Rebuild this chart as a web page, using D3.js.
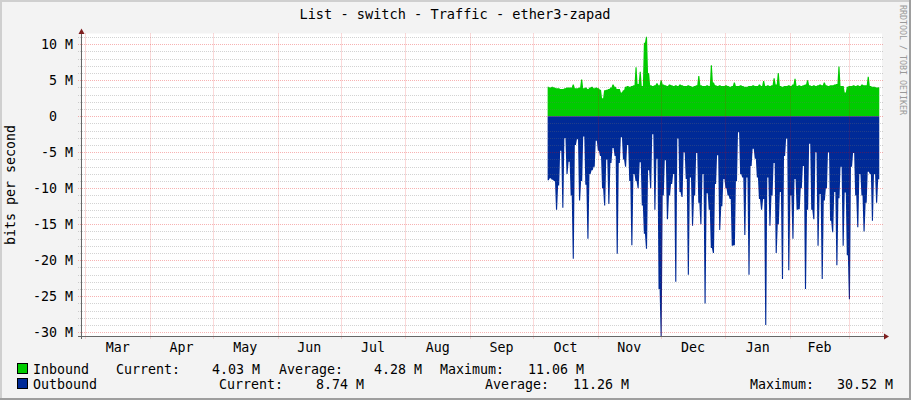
<!DOCTYPE html>
<html>
<head>
<meta charset="utf-8">
<script src="https://cdn.jsdelivr.net/npm/d3@7"></script>
<style>
  html, body { margin: 0; padding: 0; background: #f3f3f3; }
  svg { display: block; font-family: "DejaVu Sans Mono", monospace; }
</style>
</head>
<body>
<div id="chart"></div>
<script>
// daily samples, first one on seriesStart (values in M bit/s)
const seriesStart = Date.UTC(2013, 9, 8);
const inbound = [
  4.1, 4.0, 4.1, 4.0, 3.9, 3.9, 3.8, 3.8, 3.9, 4.0,
  4.0, 4.0, 4.4, 3.9, 3.9, 4.0, 5.1, 3.9, 4.0, 3.8,
  4.0, 4.1, 3.9, 4.0, 3.9, 3.7, 2.5, 3.6, 3.7, 3.8,
  4.0, 4.4, 4.1, 3.8, 3.8, 3.3, 3.6, 4.1, 4.2, 4.1,
  4.2, 4.3, 6.8, 4.5, 6.2, 4.2, 10.2, 11.06, 6.0, 4.3,
  4.2, 4.3, 4.6, 4.3, 5.0, 4.4, 4.3, 4.2, 4.4, 4.3,
  4.2, 4.3, 4.2, 4.4, 4.3, 4.2, 4.2, 4.3, 4.2, 4.1,
  4.2, 4.3, 5.6, 4.3, 4.2, 4.2, 4.3, 4.2, 7.1, 4.7,
  4.3, 4.2, 4.3, 4.2, 4.2, 4.3, 4.2, 4.1, 4.2, 4.7,
  4.2, 4.2, 4.3, 4.2, 4.1, 4.1, 4.2, 4.2, 4.3, 4.2,
  4.2, 4.4, 4.2, 4.9, 4.2, 4.3, 4.2, 4.3, 5.3, 4.4,
  6.0, 4.2, 4.1, 4.2, 4.2, 4.3, 4.2, 4.4, 5.2, 4.2,
  4.3, 4.2, 4.3, 4.4, 5.0, 4.3, 4.2, 4.3, 4.2, 4.3,
  4.4, 4.3, 4.7, 4.3, 4.2, 4.3, 4.3, 4.4, 4.5, 6.9,
  4.2, 4.2, 3.3, 4.1, 4.2, 4.2, 4.3, 4.2, 4.3, 4.2,
  4.4, 4.3, 4.3, 5.5, 4.2, 4.1, 4.1, 4.0, 4.03
];
// outbound is graphed below zero
const outbound = [
  8.9, 8.6, 8.8, 9.0, 13, 9.6, 4.8, 12.7, 3.0, 8,
  6.3, 11, 19.8, 4, 3.2, 11.7, 9, 2.8, 9.5, 17,
  8, 7.5, 7, 3.4, 4.8, 5.5, 10, 12.4, 6, 12.2,
  6.5, 4.4, 5.5, 19.1, 6.5, 2.9, 6, 7, 4, 9,
  17.9, 8, 9, 10, 6.4, 12.4, 16.3, 18.4, 7.5, 10,
  2.5, 13, 5.9, 24, 30.52, 11, 6.1, 14.3, 11, 9.4,
  8, 23, 3.1, 10.5, 11.2, 5, 8.7, 22, 8.5, 15.2,
  11, 5.1, 12, 15, 8, 26, 10.7, 13, 18.3, 19,
  9.4, 5.4, 15.8, 12.5, 8.7, 10, 11, 11.5, 18, 17.9,
  9, 2.2, 8, 8.5, 16.5, 8.5, 22, 6.9, 4.5, 5.9,
  8.5, 11.5, 13, 11.5, 29, 8.5, 15.2, 11, 6.5, 19,
  15, 10.5, 22.6, 5.5, 3.1, 21.4, 11, 17, 8.7, 13,
  12.9, 10, 6.9, 24, 13, 3.8, 13, 14.3, 5, 18,
  10.8, 22.6, 11.7, 10, 5, 14.5, 16.1, 10.5, 20.7, 11.4,
  7, 18, 10.6, 19.3, 25.4, 7, 5.1, 11, 15.4, 8,
  11, 16, 12, 7.7, 8, 14.5, 8, 12, 8.74
];
const yTicks = [10, 5, 0, -5, -10, -15, -20, -25, -30];
const legendNames = ["Inbound", "Outbound"];
const inboundStats = ["4.03 M", "4.28 M", "11.06 M"];
const outboundStats = ["8.74 M", "11.26 M", "30.52 M"];

const W = 911, H = 400;
const plotLeft = 81, plotRight = 882, plotTop = 33.5, plotBottom = 336;
const green = "#00cc00", blue = "#002a97";

const svg = d3.select("#chart").append("svg")
  .attr("width", W).attr("height", H);

// background with shaded frame
svg.append("rect").attr("width", W).attr("height", H).attr("fill", "#f3f3f3");
svg.append("path").attr("d", "M0,1H" + W + "M1,0V" + H).attr("stroke", "#cfcfcf").attr("stroke-width", 2);
svg.append("path").attr("d", "M0," + (H - 1) + "H" + W + "M" + (W - 1) + ",0V" + H).attr("stroke", "#9e9e9e").attr("stroke-width", 2);

svg.append("rect")
  .attr("x", plotLeft).attr("y", plotTop)
  .attr("width", plotRight - plotLeft).attr("height", plotBottom - plotTop)
  .attr("fill", "#fff");

const x = d3.scaleUtc()
  .domain([new Date(Date.UTC(2013, 1, 26, 22, 30)), new Date(Date.UTC(2014, 2, 16, 20, 0))])
  .range([plotLeft, plotRight]);
const y = d3.scaleLinear()
  .domain([-30.52, 11.5])
  .range([plotBottom, plotTop]);

// daily values -> flat step with a 1px ramp to the next day (like rrdtool)
function stepPoints(values, sign) {
  const pts = [];
  values.forEach((v, i) => {
    const t0 = d3.utcDay.offset(new Date(seriesStart), i);
    const t1 = d3.utcDay.offset(t0, 1);
    pts.push([x(t0), y(sign * v)]);
    pts.push([x(t1) - 1, y(sign * v)]);
  });
  return pts;
}

const area = d3.area()
  .x(d => d[0])
  .y0(y(0))
  .y1(d => d[1]);

svg.append("path").attr("d", area(stepPoints(inbound, 1))).attr("fill", green);
svg.append("path").attr("d", area(stepPoints(outbound, -1))).attr("fill", blue);

// grid on top of the data
const minorCol = "rgba(110,110,110,0.3)", majorCol = "rgba(230,0,0,0.3)";
const grid = svg.append("g").attr("stroke-dasharray", "1,1").attr("stroke-width", 1);
d3.range(-30, 12).forEach(v => {
  const yy = Math.round(y(v)) + 0.5;
  grid.append("line")
    .attr("x1", plotLeft - 3).attr("x2", plotRight + 2)
    .attr("y1", yy).attr("y2", yy)
    .attr("stroke", v % 5 === 0 ? majorCol : minorCol);
});
const months = d3.utcMonth.range(x.domain()[0], x.domain()[1]);
months.forEach(m => {
  const xx = Math.round(x(m)) + 0.5;
  grid.append("line")
    .attr("x1", xx).attr("x2", xx)
    .attr("y1", plotTop).attr("y2", plotBottom + 3)
    .attr("stroke", majorCol);
});

// axes
svg.append("line")
  .attr("x1", plotLeft - 3).attr("x2", plotRight + 3)
  .attr("y1", plotBottom + 0.5).attr("y2", plotBottom + 0.5)
  .attr("stroke", "#666");
svg.append("line")
  .attr("x1", plotLeft + 0.5).attr("x2", plotLeft + 0.5)
  .attr("y1", plotBottom + 3).attr("y2", plotTop - 2)
  .attr("stroke", "#666");
svg.append("path")
  .attr("d", `M${plotLeft + 0.5},${plotTop - 5}L${plotLeft + 3.5},${plotTop + 0.5}L${plotLeft - 2.5},${plotTop + 0.5}Z`)
  .attr("fill", "#7f1f1f");
svg.append("path")
  .attr("d", `M${plotRight + 7},${plotBottom + 0.5}L${plotRight + 2},${plotBottom - 2.5}L${plotRight + 2},${plotBottom + 3.5}Z`)
  .attr("fill", "#7f1f1f");

// y labels
svg.append("g").selectAll("text").data(yTicks).join("text")
  .attr("x", d => d === 0 ? 57 : 73)
  .attr("y", d => y(d) + 4.8)
  .attr("text-anchor", "end")
  .attr("font-size", 13.3)
  .attr("fill", "#000")
  .text(d => d === 0 ? "0" : d + " M");

// month labels centred in each month
const fmt = d3.utcFormat("%b");
svg.append("g").selectAll("text")
  .data(months.filter(m => x(d3.utcDay.offset(m, 15)) < plotRight - 20))
  .join("text")
  .attr("x", m => (x(m) + x(d3.utcMonth.offset(m, 1))) / 2)
  .attr("y", 352)
  .attr("text-anchor", "middle")
  .attr("font-size", 13.3)
  .text(fmt);

// titles
svg.append("text")
  .attr("x", 455).attr("y", 19)
  .attr("text-anchor", "middle")
  .attr("font-size", 13.6)
  .text("List - switch - Traffic - ether3-zapad");

svg.append("text")
  .attr("transform", "translate(15,185) rotate(-90)")
  .attr("text-anchor", "middle")
  .attr("font-size", 13.3)
  .text("bits per second");

svg.append("text")
  .attr("transform", "translate(900,5) rotate(90)")
  .attr("font-size", 8.3)
  .attr("fill", "#999")
  .text("RRDTOOL / TOBI OETIKER");

// legend
const legendRows = [
  { name: legendNames[0], color: green, stats: inboundStats, base: 374,
    labelX: [116, 279, 440], valueEnd: [260, 422, 584] },
  { name: legendNames[1], color: blue, stats: outboundStats, base: 389,
    labelX: [219, 485, 750], valueEnd: [364, 629, 893] }
];
const statLabels = ["Current:", "Average:", "Maximum:"];
legendRows.forEach(r => {
  svg.append("rect")
    .attr("x", 17.5).attr("y", r.base - 10.5)
    .attr("width", 10).attr("height", 10)
    .attr("fill", r.color).attr("stroke", "#000");
  svg.append("text").attr("x", 33).attr("y", r.base)
    .attr("font-size", 13.3).text(r.name);
  statLabels.forEach((s, i) => {
    svg.append("text").attr("x", r.labelX[i]).attr("y", r.base)
      .attr("font-size", 13.3).text(s);
    svg.append("text").attr("x", r.valueEnd[i]).attr("y", r.base)
      .attr("text-anchor", "end")
      .attr("font-size", 13.3).text(r.stats[i]);
  });
});
</script>
</body>
</html>
